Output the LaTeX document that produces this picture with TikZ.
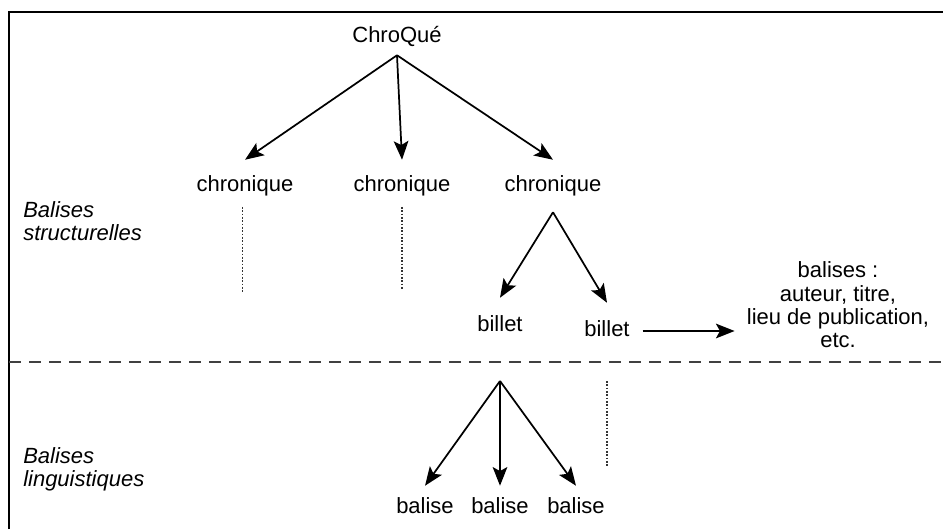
\documentclass[tikz,border=0pt]{standalone}
\usepackage{fontspec}
\setmainfont{Liberation Sans}
\usetikzlibrary{arrows.meta}

\begin{document}
\begin{tikzpicture}[x=0.75pt,y=-0.75pt,
  lbl/.style={font=\fontsize{16.5}{17.5}\selectfont,text height=12pt,text depth=3.5pt,inner xsep=2pt},
  rootbox/.style={lbl,inner ysep=5.75pt},
  chronbox/.style={lbl,inner ysep=11.75pt},
  billetbox/.style={lbl,inner ysep=13.25pt},
  balisebox/.style={lbl,inner ysep=8.75pt},
  side/.style={font=\fontsize{16.5}{17.5}\selectfont\itshape,align=left,anchor=north west,inner sep=0pt},
  arr/.style={line width=1.3pt,-{Stealth[length=14pt,width=11pt,inset=3pt]}},
  dots/.style={line width=1pt,black!80,dash pattern=on 1.2pt off 1.3pt},
  sep/.style={line width=1.5pt,black!75,dash pattern=on 9pt off 6pt}]
  \useasboundingbox (0,0) rectangle (943,529);
  \draw[line width=2.2pt] (9,529) -- (9,12) -- (943,12);

  \node[rootbox] (root) at (397,37) {ChroQué};
  \node[chronbox] (c1) at (245,186) {chronique};
  \node[chronbox] (c2) at (402,186) {chronique};
  \node[chronbox] (c3) at (553,186) {chronique};
  \node[billetbox] (bil1) at (500,326) {billet};
  \node[billetbox] (bil2) at (607,331) {billet};
  \node[font=\fontsize{16.5}{17.5}\selectfont,align=center,inner sep=0pt] (info) at (838,305)
    {balises :\\auteur, titre,\\lieu de publication,\\etc.};

  \draw[arr] (root.south) -- (c1.north);
  \draw[arr] (root.south) -- (c2.north);
  \draw[arr] (root.south) -- (c3.north);
  \draw[arr] (c3.south) -- (bil1.north);
  \draw[arr] (c3.south) -- (bil2.north);
  \draw[arr,shorten <=7.5pt,shorten >=9pt] (bil2.east) -- (bil2.east -| info.west);

  \draw[dots] ([xshift=-2pt,yshift=4pt]c1.south) -- ++(0,85);
  \draw[dots] ([yshift=4pt]c2.south) -- ++(0,83);

  \draw[sep] (9,362) -- (943,362);

  \coordinate (apex) at (500,381);
  \node[balisebox] (t1) at (425,508) {balise};
  \node[balisebox] (t2) at (500,508) {balise};
  \node[balisebox] (t3) at (576,508) {balise};
  \draw[arr] (apex) -- (t1.north);
  \draw[arr] (apex) -- (t2.north);
  \draw[arr] (apex) -- (t3.north);
  \draw[dots] (bil2 |- apex) -- ++(0,85);

  \node[side] (struct) at (23,201) {Balises\\structurelles};
  \node[side] (ling) at (23,447) {Balises\\linguistiques};
\end{tikzpicture}
\end{document}
